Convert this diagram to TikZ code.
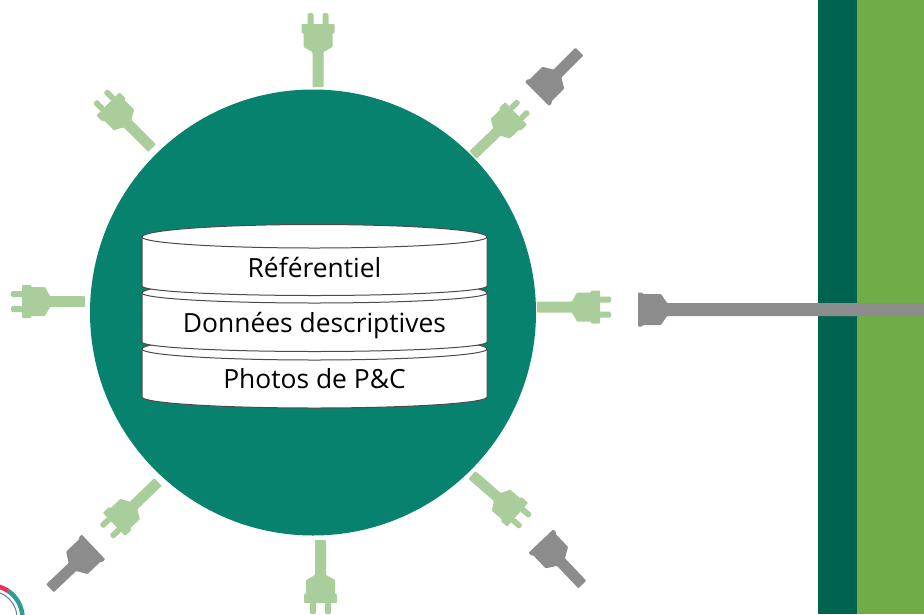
\documentclass[tikz,border=0pt]{standalone}
\usepackage{fontspec}
\setmainfont{Open Sans}
\definecolor{plugc}{HTML}{A9CD9B}
\definecolor{greyc}{HTML}{8C8C8C}
\definecolor{tealc}{HTML}{07826E}
\definecolor{darkbar}{HTML}{00634F}
\definecolor{lightbar}{HTML}{70AD47}
\definecolor{edgec}{HTML}{4A4A4A}
\definecolor{logored}{HTML}{E8305A}
\definecolor{logoteal}{HTML}{2E9C94}
\definecolor{logoblue}{HTML}{5B7DB8}
\newcommand{\discpath}[3]{% top edge y, bottom edge y, arc depth of the bottom
  (142,#1) -- (142,#2)
  .. controls (142,#2+.55*#3) and (219.6,#2+#3) .. (314.5,#2+#3)
  .. controls (409.4,#2+#3) and (487,#2+.55*#3) .. (487,#2)
  -- (487,#1)
  .. controls (487,#1-7) and (409.4,#1-12.5) .. (314.5,#1-12.5)
  .. controls (219.6,#1-12.5) and (142,#1-7) .. (142,#1) -- cycle}
\newcommand{\frontarc}[2]{% edge y, depth
  (142,#1) .. controls (142,#1+.55*#2) and (219.6,#1+#2) .. (314.5,#1+#2)
  .. controls (409.4,#1+#2) and (487,#1+.55*#2) .. (487,#1)}
\tikzset{
  x=1pt,y=-1pt,
  plug/.pic={
    \fill[plugc,rounded corners=.8pt] (0,-5.5) -- (35,-5.5) -- (40,-14.5) -- (54,-14.5) -- (54,-16.5) -- (63,-16.5) -- (63,16.5) -- (54,16.5) -- (54,14.5) -- (40,14.5) -- (35,5.5) -- (0,5.5) -- cycle;
    \fill[plugc,rounded corners=1.5pt] (62,-10.5) rectangle (74,-4.5);
    \fill[plugc,rounded corners=1.5pt] (62,4.5) rectangle (74,10.5);
  },
  socket/.pic={
    \fill[greyc,rounded corners=.8pt] (0,-17) -- (4,-17) -- (5,-15.5) -- (23,-15.5) -- (29,-\socketcord) -- (\socketlen,-\socketcord) -- (\socketlen,\socketcord) -- (29,\socketcord) -- (23,15.5) -- (5,15.5) -- (4,17) -- (0,17) -- cycle;
  },
  layer/.style={fill=white,draw=edgec,line width=1pt},
  frontline/.style={draw=edgec,line width=1pt},
  label/.style={font=\fontsize{26.4}{30}\selectfont,text=black,inner sep=0pt,anchor=base},
}
\def\socketlen{60}
\def\socketcord{5.5}
\begin{document}
\begin{tikzpicture}
\useasboundingbox (0,0) rectangle (924,614);
\begin{scope}
\clip (0,0) rectangle (924,614);
\fill[white] (0,0) rectangle (924,614);
% side bars
\fill[darkbar] (818,0) rectangle (857,614);
\fill[lightbar] (857,0) rectangle (924,614);
% hub
\node[circle,fill=tealc,minimum size=446pt,inner sep=0pt,draw=none] (hub) at (313,312.5) {};
% plugs
\coordinate (pT) at (318,87);
\coordinate (pUR) at (473,155);
\coordinate (pR) at (537,307);
\coordinate (pLR) at (472,475);
\coordinate (pB) at (320.5,540);
\coordinate (pLL) at (158,482);
\coordinate (pL) at (85,301.5);
\coordinate (pUL) at (152,148);
\path (pR) pic[rotate=0] {plug};
\path (pT) pic[rotate=90] {plug};
\path (pB) pic[rotate=-90] {plug};
\path (pL) pic[rotate=180] {plug};
\path (pUR) pic[rotate=44,scale=.95] {plug};
\path (pLR) pic[rotate=-41,scale=.96] {plug};
\path (pLL) pic[rotate=-136,scale=.97] {plug};
\path (pUL) pic[rotate=135,scale=.99] {plug};
% sockets
\coordinate (sUR) at (537,94);
\coordinate (sLL) at (93.5,547);
\coordinate (sLR) at (541,541);
\coordinate (sR) at (638,309.5);
\path (sUR) pic[rotate=45] {socket};
\path (sLL) pic[rotate=-136.5] {socket};
\path (sLR) pic[rotate=-46.5] {socket};
\def\socketlen{290}
\def\socketcord{6.5}
\path (sR) pic[rotate=0] {socket};
% database layers
\path[layer] \discpath{349}{397}{11};
\path[frontline] \frontarc{349}{11};
\path[layer] \discpath{293}{342}{9.5};
\path[frontline] \frontarc{293}{10};
\path[layer] \discpath{237}{286}{9.5};
\path[frontline] \frontarc{237}{11};
\node[label] (t1) at (314.5,277) {Référentiel};
\node[label] (t2) at (314.5,332) {Données descriptives};
\node[label] (t3) at (314.5,388) {Photos de P\&C};
% logo fragment
\draw[logoblue,line width=1pt,domain=-100:10,samples=40] plot ({-10+27*cos(\x)},{618+27*sin(\x)});
\draw[logored,line width=4.5pt,domain=-110:-56,samples=20] plot ({-10+32.5*cos(\x)},{618+32.5*sin(\x)});
\draw[logoteal,line width=4.5pt,domain=-56:10,samples=30] plot ({-10+32.5*cos(\x)},{618+32.5*sin(\x)});
\end{scope}
\end{tikzpicture}
\end{document}
